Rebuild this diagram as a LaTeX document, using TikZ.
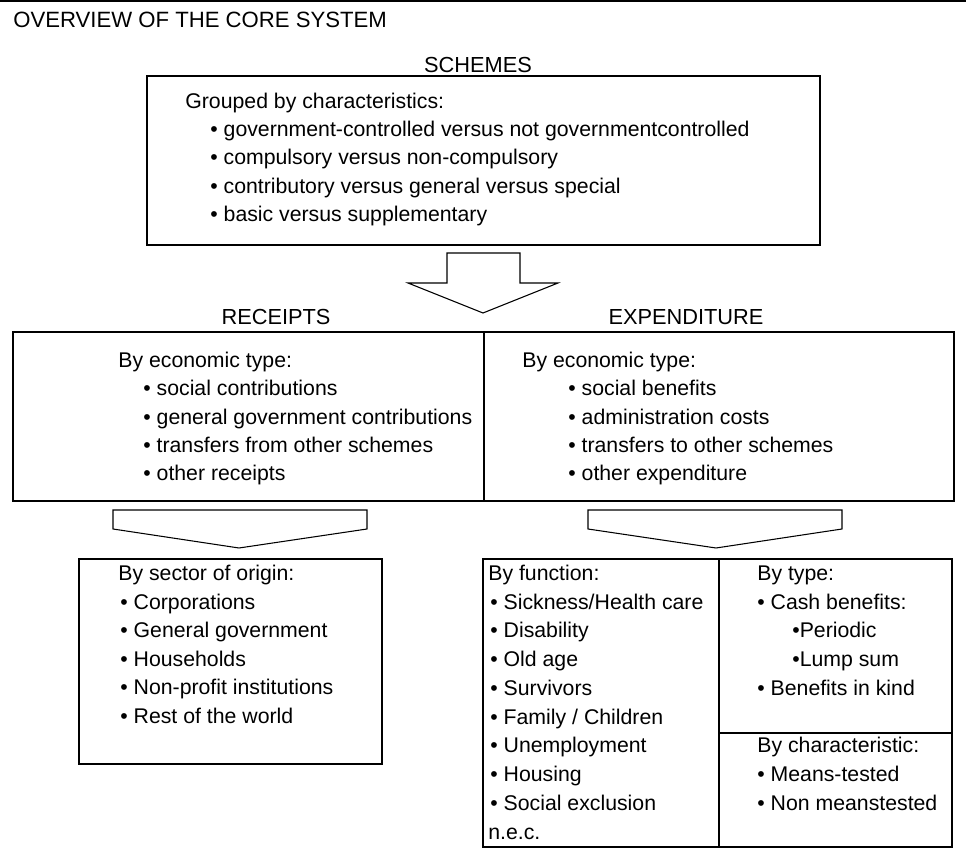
\documentclass[tikz,border=0pt]{standalone}
\usepackage{fontspec}
\setmainfont{Liberation Sans}
\begin{document}
\begin{tikzpicture}[x=0.02cm, y=-0.02cm,
  box/.style={draw, line width=1.1pt},
  blockarrow/.style={draw, line width=0.6pt, line join=miter, fill=white},
  txt/.style={anchor=base west, inner sep=0pt, yshift=-4.3pt, font=\fontsize{12.1}{14}\selectfont},
  head/.style={anchor=base, inner sep=0pt, yshift=-4.3pt, font=\fontsize{12.4}{14}\selectfont}]

 \useasboundingbox (0,0) rectangle (966,857);
 \draw[line width=1.1pt] (0,1) -- (966,1);

 \node[txt, font=\fontsize{12.6}{14}\selectfont] (title) at (13,20) {OVERVIEW OF THE CORE SYSTEM};

 %schemes
 \node[head] (schemeshead) at (478,65) {SCHEMES};
 \draw[box] (147,76) rectangle (820,245);
 \node[txt] (grouped) at (185,101) {Grouped by characteristics:};
 \foreach \i/\name in {1/government-controlled versus not governmentcontrolled,
                       2/compulsory versus non-compulsory,
                       3/contributory versus general versus special,
                       4/basic versus supplementary} {
   \node[txt] (sch\i) at (210,101+\i*28.2) {• \name};
 }

 % big arrow
 \draw[blockarrow] (447,253) -- (520,253) -- (520,283) -- (558,283) -- (483,313)
   -- (408,283) -- (447,283) -- cycle;

 %level 2
 \node[head] (rechead) at (276,317) {RECEIPTS};
 \node[head] (exphead) at (686,317) {EXPENDITURE};
 \draw[box] (13,332) rectangle (484,501);
 \draw[box] (484,332) rectangle (954,501);

 \node[txt] (rececon) at (118,360) {By economic type:};
 \foreach \i/\name in {1/social contributions, 2/general government contributions,
                       3/transfers from other schemes, 4/other receipts} {
   \node[txt] (rec\i) at (143,360+\i*28.3) {• \name};
 }
 \node[txt] (expecon) at (522,360) {By economic type:};
 \foreach \i/\name in {1/social benefits, 2/administration costs,
                       3/transfers to other schemes, 4/other expenditure} {
   \node[txt] (exp\i) at (568,360+\i*28.3) {• \name};
 }

 % small arrows
 \draw[blockarrow] (113,510) -- (367,510) -- (367,529) -- (239,548) -- (113,529) -- cycle;
 \draw[blockarrow] (588,510) -- (842,510) -- (842,529) -- (716,548) -- (588,529) -- cycle;

 %level 3
 \draw[box] (79,559) rectangle (382,764);
 \node[txt] (sector) at (118,573) {By sector of origin:};
 \foreach \i/\name in {1/Corporations, 2/General government, 3/Households,
                       4/Non-profit institutions, 5/Rest of the world} {
   \node[txt] (sec\i) at (120,573+\i*28.5) {• \name};
 }

 \draw[box] (483,559) rectangle (719,847);
 \draw[box] (719,559) rectangle (952,733);
 \draw[box] (719,733) rectangle (952,847);

 \node[txt] (func) at (488,573) {By function:};
 \foreach \i/\name in {1/{Sickness/Health care}, 2/Disability, 3/Old age, 4/Survivors,
                       5/{Family / Children}, 6/Unemployment, 7/Housing, 8/Social exclusion} {
   \node[txt] (fun\i) at (490,573+\i*28.7) {• \name};
 }
 \node[txt] (nec) at (488,832) {n.e.c.};

 \node[txt] (type) at (757,573) {By type:};
 \node[txt] (cash) at (757,601.7) {• Cash benefits:};
 \node[txt] (periodic) at (792,630.4) {•Periodic};
 \node[txt] (lump) at (792,659.1) {•Lump sum};
 \node[txt] (kind) at (757,687.8) {• Benefits in kind};

 \node[txt] (charact) at (757,745) {By characteristic:};
 \node[txt] (means) at (757,774) {• Means-tested};
 \node[txt] (nonmeans) at (757,803) {• Non meanstested};

\end{tikzpicture}
\end{document}
